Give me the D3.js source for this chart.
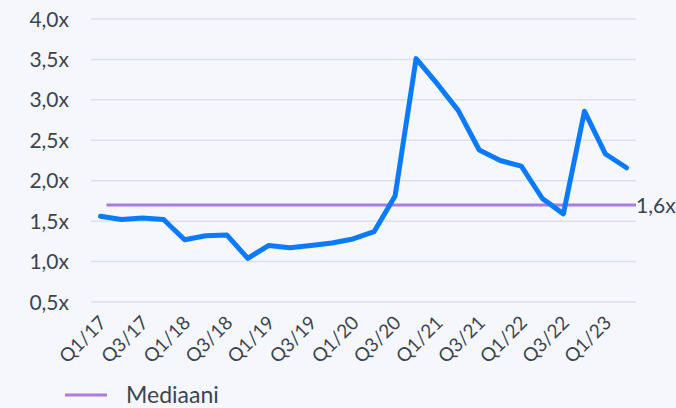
<!DOCTYPE html>
<html>
<head>
<meta charset="utf-8">
<script src="https://cdn.jsdelivr.net/npm/d3@7"></script>
<style>
  body{margin:0;background:#f5f7fc;}
  svg{display:block;font-family:"Lato","Open Sans",sans-serif;}
</style>
</head>
<body>
<script>
// quarters Q1/17 .. Q2/23
const quarters=["Q1/17","Q2/17","Q3/17","Q4/17","Q1/18","Q2/18","Q3/18","Q4/18",
  "Q1/19","Q2/19","Q3/19","Q4/19","Q1/20","Q2/20","Q3/20","Q4/20",
  "Q1/21","Q2/21","Q3/21","Q4/21","Q1/22","Q2/22","Q3/22","Q4/22","Q1/23","Q2/23"];
const multiples=[1.56,1.52,1.54,1.52,1.27,1.32,1.33,1.04,1.20,1.17,1.20,1.23,1.28,1.37,
  1.81,3.51,3.20,2.87,2.38,2.25,2.18,1.78,1.59,2.86,2.33,2.16];
const yTicks=[0.5,1.0,1.5,2.0,2.5,3.0,3.5,4.0];
const median=1.7;
const medianLabel="1,6x";
const legendLabel="Mediaani";

const W=676,H=408;
const m={left:91,right:40,top:19,bottom:106};

const svg=d3.select('body').append('svg').attr('width',W).attr('height',H);

const x=d3.scalePoint().domain(quarters).range([m.left,W-m.right]).padding(0.45);
const y=d3.scaleLinear().domain([0.5,4.0]).range([H-m.bottom,m.top]);

const fmt=v=>d3.format(".1f")(v).replace(".",",")+"x";

// grid
svg.append('g').selectAll('line').data(yTicks).enter().append('line')
  .attr('x1',m.left).attr('x2',W-m.right)
  .attr('y1',d=>y(d)).attr('y2',d=>y(d))
  .attr('stroke','#dde1e7').attr('stroke-width',1.5);

// y labels
svg.append('g').selectAll('text').data(yTicks).enter().append('text')
  .attr('x',m.left-22).attr('y',d=>y(d)).attr('dy','0.36em')
  .attr('text-anchor','end').attr('fill','#3b4550')
  .style('font-size','21px')
  .text(fmt);

// x labels every 2nd quarter
const xl=quarters.filter((q,i)=>i%2==0);
svg.append('g').selectAll('text').data(xl).enter().append('text')
  .attr('transform',d=>`translate(${x(d)+7},${y(0.5)+22}) rotate(-45)`)
  .attr('text-anchor','end').attr('fill','#3b4550')
  .style('font-size','19px')
  .text(d=>d);

// median
svg.append('line')
  .attr('x1',x(quarters[0])+6).attr('x2',W-m.right)
  .attr('y1',y(median)).attr('y2',y(median))
  .attr('stroke','#ab7ce0').attr('stroke-width',3);
svg.append('text')
  .attr('x',W-m.right).attr('y',y(median)).attr('dy','0.36em')
  .attr('fill','#3b4550').style('font-size','21px')
  .text(medianLabel);

// line
const line=d3.line().x((d,i)=>x(quarters[i])).y(d=>y(d));
svg.append('path').datum(multiples)
  .attr('d',line).attr('fill','none')
  .attr('stroke','#0a7bff').attr('stroke-width',5)
  .attr('stroke-linejoin','round').attr('stroke-linecap','round');

// legend
const leg=svg.append('g').attr('transform','translate(65,395)');
leg.append('line').attr('x1',0).attr('x2',42).attr('y1',0).attr('y2',0)
  .attr('stroke','#ab7ce0').attr('stroke-width',3);
leg.append('text').attr('x',61).attr('y',0).attr('dy','0.36em')
  .attr('fill','#3b4550').style('font-size','23px').text(legendLabel);
</script>
</body>
</html>
